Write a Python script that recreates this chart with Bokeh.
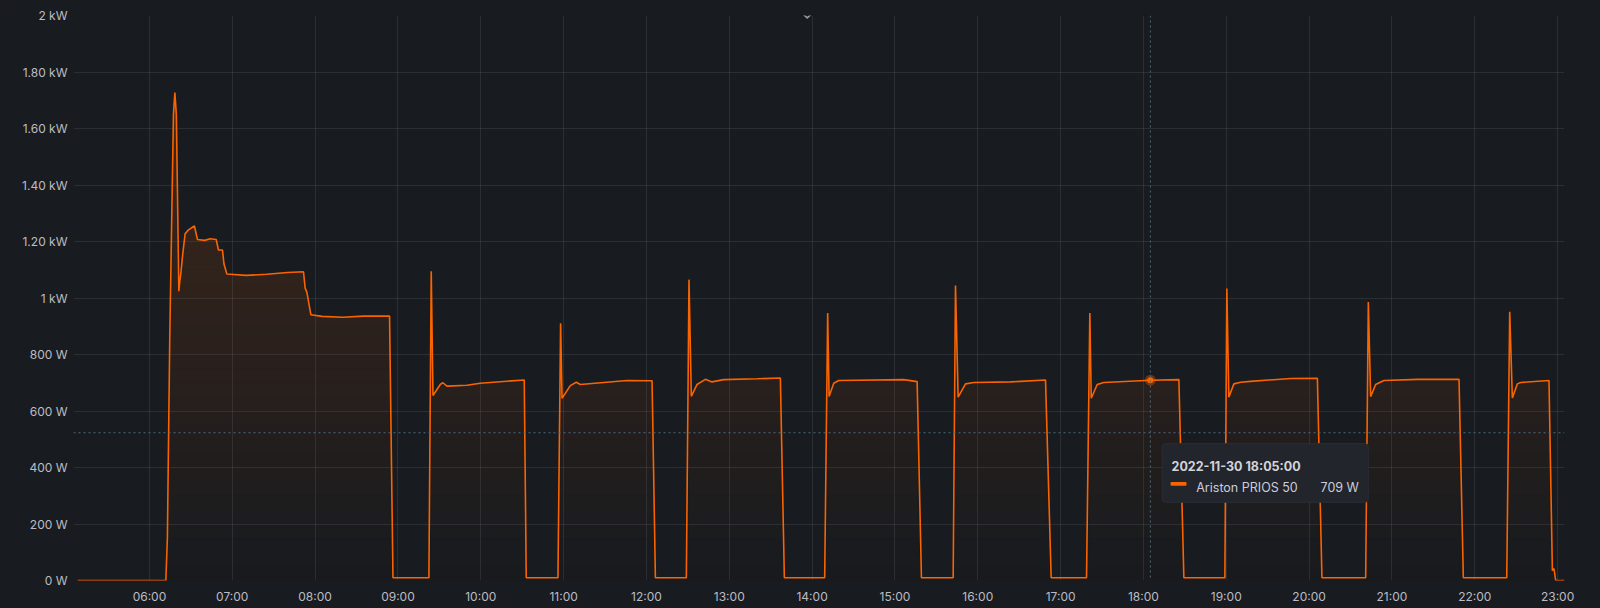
import numpy as np
import pandas as pd
from bokeh.plotting import figure
from bokeh.models import Range1d, FixedTicker, DatetimeTickFormatter, Span, BoxAnnotation, Label
from bokeh.embed import file_html
from bokeh.resources import INLINE

# ---------------- data ----------------
DATE = "2022-11-30"
SERIES_NAME = "Ariston PRIOS 50"

TIMES = [
    "05:08:00", "06:11:54", "06:13:00", "06:14:42", "06:17:24", "06:18:25", "06:19:30", "06:21:18",
    "06:22:00", "06:22:45", "06:24:00", "06:25:50", "06:28:00", "06:32:35", "06:34:48", "06:40:00",
    "06:44:00", "06:48:22", "06:50:00", "06:52:55", "06:54:00", "06:56:06", "07:10:00", "07:25:00",
    "07:40:00", "07:51:36", "07:52:48", "07:54:04", "07:56:56", "08:05:00", "08:20:00", "08:35:00",
    "08:53:56", "08:56:24",
    "09:22:26", "09:24:07", "09:25:23", "09:30:40", "09:32:35", "09:35:31", "09:50:00", "09:59:38",
    "10:31:30", "10:32:56",
    "10:55:55", "10:57:50", "10:58:52", "11:04:52", "11:09:11", "11:12:07", "11:45:58", "12:04:05",
    "12:06:29",
    "12:28:55", "12:30:50", "12:32:31", "12:36:40", "12:42:40", "12:47:31", "12:55:55", "13:20:10",
    "13:37:01", "13:39:54",
    "14:09:07", "14:11:17", "14:12:18", "14:15:40", "14:19:16", "15:06:22", "15:16:05", "15:19:12",
    "15:42:11", "15:43:52", "15:45:47", "15:51:07", "15:57:07", "16:23:42", "16:49:05", "16:53:10",
    "17:18:47", "17:21:11", "17:22:12", "17:26:31", "17:31:19", "18:05:00", "18:25:41", "18:29:17",
    "18:58:59", "19:00:25", "19:01:52", "19:05:31", "19:10:23", "19:17:35", "19:46:34", "20:06:00",
    "20:09:18",
    "20:40:59", "20:42:54", "20:44:35", "20:48:11", "20:54:14", "21:18:25", "21:48:36", "21:51:43",
    "22:23:10", "22:25:19", "22:27:14", "22:30:50", "22:33:14", "22:53:46", "22:56:13", "22:57:00",
    "22:57:25", "22:58:37", "23:05:00",
]
WATTS = [
    0, 0, 150, 850, 1650, 1727, 1650, 1024,
    1060, 1086, 1150, 1227, 1240, 1255, 1207, 1204,
    1210, 1207, 1170, 1170, 1120, 1085, 1080, 1084,
    1090, 1093, 1035, 1020, 941, 935, 932, 936,
    936, 10,
    10, 1095, 655, 694, 700, 688, 691, 698,
    710, 10,
    10, 911, 645, 690, 702, 694, 708, 707,
    10,
    10, 1065, 652, 694, 712, 703, 711, 714,
    717, 10,
    10, 947, 651, 698, 708, 711, 704, 10,
    10, 1044, 649, 696, 701, 703, 710, 10,
    10, 947, 645, 694, 701, 709, 711, 10,
    10, 1034, 649, 696, 702, 705, 715, 716,
    10,
    10, 986, 651, 694, 708, 712, 712, 10,
    10, 951, 646, 696, 701, 708, 35, 42,
    40, 0, 0,
]

Y_TICKS = [0, 200, 400, 600, 800, 1000, 1200, 1400, 1600, 1800, 2000]
Y_LABELS = ["0 W", "200 W", "400 W", "600 W", "800 W", "1 kW",
            "1.20 kW", "1.40 kW", "1.60 kW", "1.80 kW", "2 kW"]
X_TICK_TIMES = ["%02d:00" % h for h in range(6, 24)]
VIEW_START, VIEW_END = "05:05", "23:05"
Y_MAX = 2000

HOVER_TIME = "18:05:00"
HOVER_WATTS = 709
CROSSHAIR_WATTS = 523
TOOLTIP_TITLE = f"{DATE} {HOVER_TIME}"
TOOLTIP_VALUE = f"{HOVER_WATTS} W"

# ---------------- style ----------------
BG = "#181b1f"
ORANGE = "#FA6400"
GRID = "#ccccdc"
TICK_TXT = "#bcbdc4"
CROSS = "#4f6d7a"
TIP_BG = "#22252b"
FONT = "Inter"


def ms(t):
    return pd.Timestamp(f"{DATE} {t}").value / 1e6


x = np.array([ms(t) for t in TIMES])
y = np.array(WATTS, dtype=float)
x0, x1 = ms(VIEW_START), ms(VIEW_END)

W, H = 1592, 606
BL, BR, BT = 73, 28, 15
FRAME_W = W - BL - BR
FRAME_H = 566
BB = H - BT - FRAME_H

p = figure(width=W, height=H, x_axis_type="datetime",
           x_range=Range1d(x0, x1), y_range=Range1d(0, Y_MAX),
           output_backend="svg", toolbar_location=None,
           min_border_left=BL, min_border_right=BR,
           min_border_top=BT, min_border_bottom=BB,
           background_fill_color=BG, border_fill_color=BG,
           outline_line_color=None)

# axes
p.xaxis.ticker = FixedTicker(ticks=[ms(t) for t in X_TICK_TIMES])
p.xaxis.formatter = DatetimeTickFormatter(hours="%H:%M", days="%H:%M", minutes="%H:%M",
                                          hourmin="%H:%M", minsec="%H:%M")
p.yaxis.ticker = FixedTicker(ticks=Y_TICKS)
p.yaxis.major_label_overrides = {t: l for t, l in zip(Y_TICKS, Y_LABELS)}
for ax in (p.xaxis[0], p.yaxis[0]):
    ax.axis_line_color = None
    ax.major_tick_line_color = None
    ax.minor_tick_line_color = None
    ax.major_tick_in = 0
    ax.major_tick_out = 0
    ax.major_label_text_font = FONT
    ax.major_label_text_font_size = "12px"
    ax.major_label_text_color = TICK_TXT
p.yaxis.major_label_standoff = 6
p.xaxis.major_label_standoff = 8

p.xgrid.grid_line_color = GRID
p.xgrid.grid_line_alpha = 0.11
p.ygrid.grid_line_color = GRID
p.ygrid.grid_line_alpha = 0.11

# gradient fill: horizontal bands, opacity growing with height
top = y.max()
step = 50
for lo in np.arange(0, top, step):
    hi = lo + step
    mid = (lo + hi) / 2
    a = 0.17 * min(mid, top) / top
    p.varea(x=x, y1=np.minimum(y, lo), y2=np.minimum(y, hi),
            fill_color=ORANGE, fill_alpha=a)

p.line(x, y, line_color=ORANGE, line_width=1.6)

# crosshair
hx, hv = ms(HOVER_TIME), HOVER_WATTS
p.add_layout(Span(location=hx, dimension="height", line_color=CROSS,
                  line_dash="2 3", line_width=1))
p.add_layout(Span(location=CROSSHAIR_WATTS, dimension="width", line_color=CROSS,
                  line_dash="2 3", line_width=1))

p.scatter([hx], [hv], size=11, fill_color=ORANGE, fill_alpha=0.35, line_color=None)
p.scatter([hx], [hv], size=6, fill_color=ORANGE, line_color=None)

# tooltip, placed with pixel offsets from the hovered point
px_per_ms = FRAME_W / (x1 - x0)
px_per_w = FRAME_H / Y_MAX


def at(dx, dy):
    return hx + dx / px_per_ms, hv - dy / px_per_w


l, t_ = at(11.9, 63.6)
r, b = at(217.9, 122.3)
p.add_layout(BoxAnnotation(left=l, right=r, top=t_, bottom=b,
                           fill_color=TIP_BG, fill_alpha=1.0,
                           line_color="#2b2e35", line_alpha=1.0, border_radius=3))
sl, st = at(20.2, 102.0)
sr, sb = at(36.2, 105.8)
p.add_layout(BoxAnnotation(left=sl, right=sr, top=st, bottom=sb,
                           fill_color=ORANGE, fill_alpha=1.0, line_color=None,
                           border_radius=1))
tx, ty = at(21.2, 86.9)
p.add_layout(Label(x=tx, y=ty, text=TOOLTIP_TITLE, text_font=FONT, text_font_size="12.5px",
                   text_font_style="bold", text_color="#d3d4da",
                   text_baseline="alphabetic", text_align="left"))
nx, ny = at(45.9, 107.6)
p.add_layout(Label(x=nx, y=ny, text=SERIES_NAME, text_font=FONT, text_font_size="12.5px",
                   text_color="#ccccdc", text_baseline="alphabetic", text_align="left"))
vx, vy = at(170.2, 107.6)
p.add_layout(Label(x=vx, y=vy, text=TOOLTIP_VALUE, text_font=FONT, text_font_size="12.5px",
                   text_color="#ccccdc", text_baseline="alphabetic", text_align="left"))

# panel header chevron (drawn as a small polyline, positioned in pixels)
def px_to_data(px, py):
    return x0 + px / px_per_ms, Y_MAX - py / px_per_w

CHEV_PX = [(729.7, -1.3), (733.7, 2.3), (737.7, -1.3)]
cxs, cys = zip(*[px_to_data(a_, b_) for a_, b_ in CHEV_PX])
chev = p.line(list(cxs), list(cys), line_color="#9a9aa1", line_width=1.6,
              line_join="round", line_cap="round")

html = file_html(p, INLINE)
html = html.replace("</head>", "<style>html,body{background:#181b1f;}</style></head>", 1)
open("out.html", "w").write(html)
